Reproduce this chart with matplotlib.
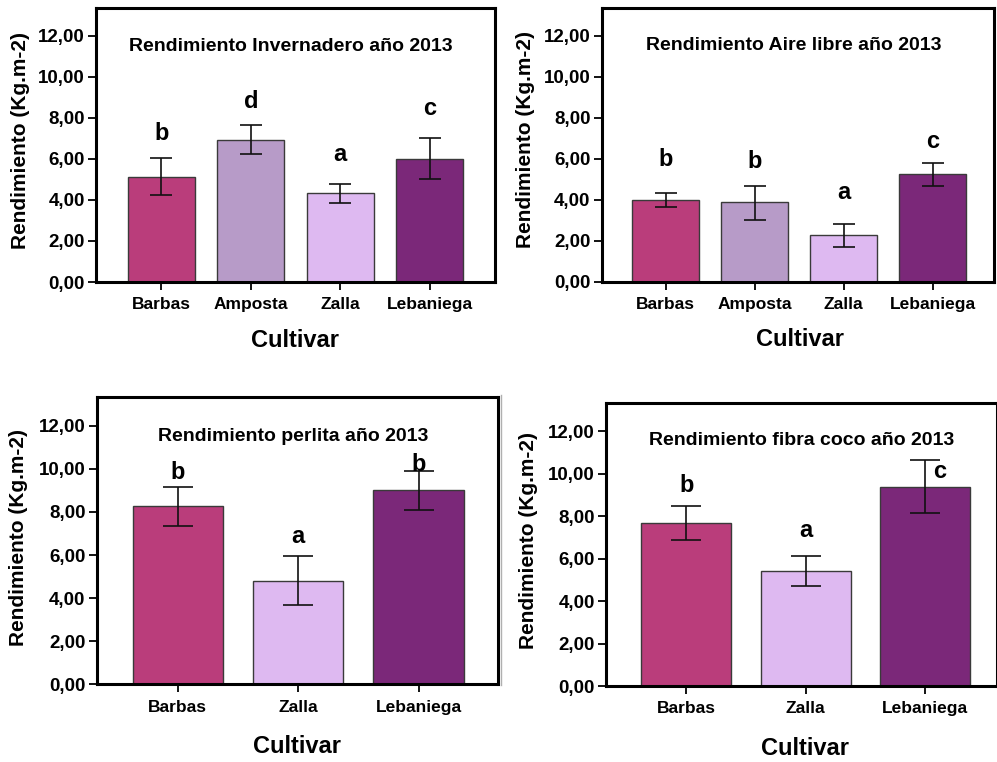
import matplotlib
matplotlib.use("Agg")
import matplotlib.pyplot as plt
from matplotlib.lines import Line2D

plt.rcParams['font.family'] = ['Liberation Sans', 'DejaVu Sans']
plt.rcParams['font.weight'] = 'bold'

# colours per cultivar
colores = {'Barbas': '#ba3d7b', 'Amposta': '#b79bc8', 'Zalla': '#deb9f1', 'Lebaniega': '#7b2879'}

# --- Invernadero ---
inv_cultivares = ['Barbas', 'Amposta', 'Zalla', 'Lebaniega']
inv_media = [5.13, 6.93, 4.32, 6.00]
inv_sup = [6.05, 7.63, 4.78, 7.03]
inv_inf = [4.25, 6.24, 3.85, 5.04]
inv_letras = ['b', 'd', 'a', 'c']
inv_letras_y = [7.23, 8.80, 6.20, 8.45]

# --- Aire libre ---
aire_cultivares = ['Barbas', 'Amposta', 'Zalla', 'Lebaniega']
aire_media = [4.00, 3.87, 2.26, 5.25]
aire_sup = [4.34, 4.68, 2.83, 5.80]
aire_inf = [3.66, 3.01, 1.68, 4.65]
aire_letras = ['b', 'b', 'a', 'c']
aire_letras_y = [5.97, 5.85, 4.34, 6.86]

# --- Perlita ---
perl_cultivares = ['Barbas', 'Zalla', 'Lebaniega']
perl_media = [8.27, 4.81, 9.00]
perl_sup = [9.16, 5.94, 9.88]
perl_inf = [7.36, 3.67, 8.09]
perl_letras = ['b', 'a', 'b']
perl_letras_y = [9.82, 6.85, 10.20]

# --- Fibra coco ---
coco_cultivares = ['Barbas', 'Zalla', 'Lebaniega']
coco_media = [7.69, 5.41, 9.40]
coco_sup = [8.49, 6.13, 10.67]
coco_inf = [6.87, 4.69, 8.13]
coco_letras = ['b', 'a', 'c']
coco_letras_y = [9.46, 7.31, 10.13]

yticks = [0, 2, 4, 6, 8, 10, 12]

fig = plt.figure(figsize=(9.97, 7.62), dpi=100)


def panel(rect, cultivares, media, sup, inf, letras, letras_y, titulo, xlim,
          titulo_pos, ylab_pos, xlab_pos, letras_dx=None):
    ax = fig.add_axes(rect)
    x = list(range(len(cultivares)))
    err_low = [m - l for m, l in zip(media, inf)]
    err_high = [s - m for m, s in zip(media, sup)]
    cap = 16 if len(cultivares) == 4 else 22
    ax.bar(x, media, width=0.75, color=[colores[c] for c in cultivares],
           edgecolor='#3a3a3a', linewidth=1.0, zorder=2)
    ax.errorbar(x, media, yerr=[err_low, err_high], fmt='none', ecolor='#111111',
                elinewidth=1.2, capsize=cap / 2, capthick=1.2, zorder=3)
    for i, (l, ly) in enumerate(zip(letras, letras_y)):
        dx = letras_dx[i] if letras_dx else 0
        ax.text(i + dx, ly, l, ha='center', va='center', fontsize=17, fontweight='bold')
    ax.text(titulo_pos[0], titulo_pos[1], titulo, transform=ax.transAxes,
            ha='center', va='center', fontsize=14, fontweight='bold')
    ax.set_xlim(xlim)
    ax.set_ylim(0, 13.35)
    ax.set_xticks(x)
    ax.set_xticklabels(cultivares, fontsize=12.5, fontweight='bold')
    ax.set_yticks(yticks)
    ax.set_yticklabels(['%d,00' % v for v in yticks], fontsize=13.5, fontweight='bold')
    ax.tick_params(axis='y', length=6, width=1.3, pad=2)
    ax.tick_params(axis='x', length=6, width=1.3, pad=5)
    for s in ax.spines.values():
        s.set_linewidth(2.2)
    ax.set_ylabel('Rendimiento (Kg.m-2)', fontsize=15, fontweight='bold', va='center')
    ax.yaxis.set_label_coords(ylab_pos[0], ylab_pos[1])
    ax.set_xlabel('Cultivar', fontsize=17, fontweight='bold', va='center')
    ax.xaxis.set_label_coords(xlab_pos[0], xlab_pos[1])
    return ax


panel([0.0963, 0.6299, 0.4002, 0.3596], inv_cultivares, inv_media, inv_sup, inv_inf,
      inv_letras, inv_letras_y, 'Rendimiento Invernadero año 2013', (-0.73, 3.73),
      (0.489, 0.859), (-0.19, 0.518), (0.499, -0.212))
panel([0.6035, 0.6303, 0.3935, 0.3588], aire_cultivares, aire_media, aire_sup, aire_inf,
      aire_letras, aire_letras_y, 'Rendimiento Aire libre año 2013', (-0.72, 3.69),
      (0.49, 0.863), (-0.194, 0.52), (0.505, -0.213))
panel([0.097, 0.102, 0.4025, 0.3774], perl_cultivares, perl_media, perl_sup, perl_inf,
      perl_letras, perl_letras_y, 'Rendimiento perlita año 2013', (-0.673, 2.66),
      (0.49, 0.863), (-0.194, 0.51), (0.5, -0.217))
panel([0.6078, 0.0997, 0.3922, 0.3718], coco_cultivares, coco_media, coco_sup, coco_inf,
      coco_letras, coco_letras_y, 'Rendimiento fibra coco año 2013', (-0.672, 2.6),
      (0.5, 0.868), (-0.197, 0.512), (0.51, -0.22), letras_dx=[0, 0, 0.12])

# thin grey separator left of the last panel
fig.add_artist(Line2D([501 / 997, 501 / 997], [1 - 395 / 762, 1 - 685 / 762],
                      color='#b0b0b0', linewidth=1.0))

fig.savefig('out.png', dpi=100)
